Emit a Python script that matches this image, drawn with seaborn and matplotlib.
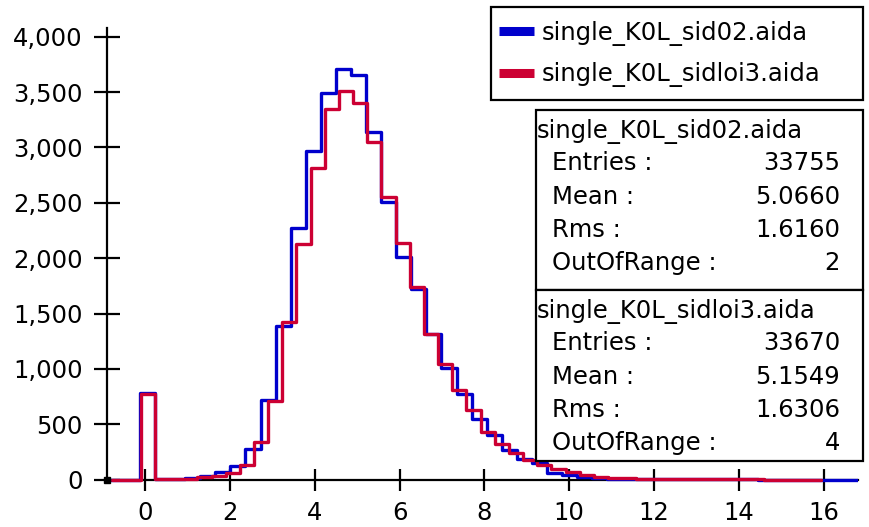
import numpy as np
import pandas as pd
import matplotlib
matplotlib.use("Agg")
import matplotlib.pyplot as plt
import matplotlib.patches as mpatches
from matplotlib.ticker import FuncFormatter
import seaborn as sns

# ---------------- data ----------------
series_names = ["single_K0L_sid02.aida", "single_K0L_sidloi3.aida"]

# binning (low edge, high edge, number of bins) per histogram
blue_range = [-0.834, 16.94, 50]
red_range = [-0.774, 15.926, 50]

blue_counts = [0, 0, 785, 3, 5, 15, 36, 67, 124, 277,
               720, 1388, 2270, 2968, 3495, 3709, 3654, 3137, 2505, 2010,
               1719, 1316, 1006, 776, 548, 404, 268, 185, 148, 60,
               38, 25, 14, 10, 8, 6, 5, 4, 3, 3,
               2, 2, 2, 1, 1, 1, 1, 0, 1, 0]
red_counts = [0, 0, 775, 2, 4, 8, 22, 33, 63, 133,
              343, 711, 1427, 2125, 2812, 3347, 3513, 3399, 3052, 2555,
              2135, 1743, 1318, 1048, 810, 629, 433, 320, 238, 180,
              130, 97, 67, 42, 27, 17, 12, 9, 7, 6,
              5, 4, 3, 3, 2, 2, 1, 1, 1, 1]

stats_labels = ["Entries :", "Mean :", "Rms :", "OutOfRange :"]
blue_stats = ["33755", "5.0660", "1.6160", "2"]
red_stats = ["33670", "5.1549", "1.6306", "4"]

x_ticks = [0, 2, 4, 6, 8, 10, 12, 14, 16]
y_ticks = [0, 500, 1000, 1500, 2000, 2500, 3000, 3500, 4000]

BLUE = "#0000cc"
RED = "#cc0033"

# ---------------- figure ----------------
sns.set_theme(style="white")
plt.rcParams["font.family"] = ["DejaVu Sans"]
plt.rcParams["text.color"] = "black"
plt.rcParams["axes.labelcolor"] = "black"
plt.rcParams["xtick.color"] = "black"
plt.rcParams["ytick.color"] = "black"
FS = 17.5

W, H = 869, 527
fig = plt.figure(figsize=(W / 100, H / 100), dpi=100)

def fx(px):
    return px / W

def fy(py):
    return 1 - py / H

# axes geometry (pixels): x from 106.7 to 858, y data [-150, 4076] -> [496.3, 28.3]
ax = fig.add_axes([fx(106.7), fy(496.3), fx(858) - fx(106.7), fy(28.3) - fy(496.3)])
ax.set_xlim(-0.908, 16.81)
ax.set_ylim(-150, 4076)


def draw(counts, rng, color, name):
    edges = np.linspace(rng[0], rng[1], rng[2] + 1)
    centers = (edges[:-1] + edges[1:]) / 2
    df = pd.DataFrame({"x": centers, "w": counts})
    sns.histplot(data=df, x="x", weights="w", bins=[float(e) for e in edges],
                 element="step", fill=False, color=color, linewidth=2.4,
                 ax=ax, label=name, zorder=3)


draw(blue_counts, blue_range, BLUE, series_names[0])
draw(red_counts, red_range, RED, series_names[1])

ax.set_xlabel("")
ax.set_ylabel("")
for s in ["top", "right"]:
    ax.spines[s].set_visible(False)
for s in ["left", "bottom"]:
    ax.spines[s].set_color("black")
    ax.spines[s].set_linewidth(1.6)
ax.spines["bottom"].set_position(("data", 0))
ax.spines["left"].set_bounds(0, 4076)

ax.set_xticks(x_ticks)
ax.set_yticks(y_ticks)
ax.yaxis.set_major_formatter(FuncFormatter(lambda v, p: f"{int(v):,}"))
ax.tick_params(axis="x", direction="inout", length=16.5, width=1.6,
               labelsize=FS, pad=7, colors="black", bottom=True)
ax.tick_params(axis="y", direction="inout", length=18.5, width=1.6,
               labelsize=FS, pad=8, colors="black", left=True)
ax.grid(False)

# small corner marker
ax.plot([0], [0], marker="s", ms=4, color="black",
        transform=ax.get_yaxis_transform(), clip_on=False, zorder=4)

# ---------------- legend ----------------
frame = mpatches.Rectangle((fx(491), fy(100)), fx(862.7) - fx(491),
                           fy(6.7) - fy(100), transform=fig.transFigure,
                           facecolor="white", edgecolor="black",
                           linewidth=1.6, zorder=5)
fig.add_artist(frame)
handles, labels = ax.get_legend_handles_labels()
leg = fig.legend(handles, labels, loc="upper left",
                 bbox_to_anchor=(fx(499), fy(21)),
                 bbox_transform=fig.transFigure,
                 fontsize=FS, frameon=False,
                 borderpad=0.0, labelspacing=0.67, handlelength=1.45,
                 handletextpad=0.3, borderaxespad=0)
leg.set_zorder(6)
for ln in leg.get_lines():
    ln.set_linewidth(6.5)
    ln.set_drawstyle("default")
    ln.set_solid_capstyle("butt")
for t in leg.get_texts():
    t.set_color("black")

# ---------------- stats boxes ----------------
def stats_box(top, bottom, title, values):
    rect = mpatches.Rectangle((fx(535.5), fy(bottom)), fx(863) - fx(535.5),
                              fy(top) - fy(bottom), transform=fig.transFigure,
                              facecolor="white", edgecolor="black",
                              linewidth=1.6, zorder=5)
    fig.add_artist(rect)
    fig.text(fx(537), fy(top + 21.5), title, fontsize=FS, ha="left",
             va="center", zorder=6, color="black")
    for i, (lab, val) in enumerate(zip(stats_labels, values)):
        yc = top + 53.5 + i * 33.3
        fig.text(fx(552.5), fy(yc), lab, fontsize=FS, ha="left",
                 va="center", zorder=6, color="black")
        fig.text(fx(840), fy(yc), val, fontsize=FS, ha="right",
                 va="center", zorder=6, color="black")


stats_box(110, 290, series_names[0], blue_stats)
stats_box(290, 461, series_names[1], red_stats)

fig.savefig("out.png", dpi=100)
